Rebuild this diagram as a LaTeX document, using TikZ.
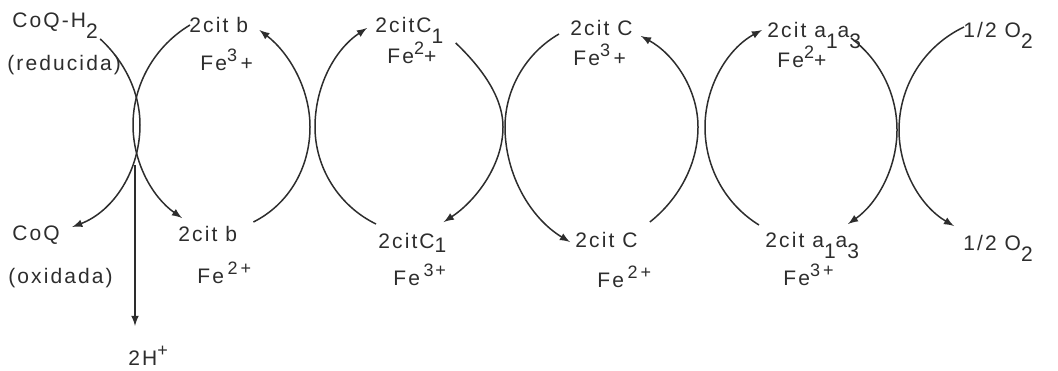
\documentclass[tikz,border=0pt]{standalone}
\usepackage{fontspec}
\setmainfont{Liberation Sans}[LetterSpace=10]
\definecolor{inkColor}{RGB}{45,45,45}
\newcommand{\subIdx}[2][1.05ex]{\raisebox{-#1}{#2}}
\newcommand{\supIdx}[1]{\raisebox{0.75ex}{\fontsize{9}{10}\selectfont #1}}

\begin{document}
\begin{tikzpicture}[x=0.5pt, y=-0.5pt,
    label/.style={inner sep=0pt, anchor=base west, text=inkColor, font=\fontsize{10.5}{12}\selectfont},
    flecha/.style={line width=0.75pt, draw=inkColor, -latex}]
  \useasboundingbox (0,0) rectangle (1058,370);

  % Coenzima Q
  \node[label] (coqH2) at (12,27) {CoQ-H\subIdx{2}};
  \node[label] (coqRed) at (7,70) {(reducida)};
  \node[label] (coq) at (12,240) {CoQ};
  \node[label] (coqOx) at (8,283) {(oxidada)};
  \node[label] (protons) at (128,365) {2H\supIdx{+}};

  % Citocromo b
  \node[label] (citbTop) at (189,32) {2cit b};
  \node[label] (feBTop) at (200,70) {Fe\supIdx{3}\,+};
  \node[label] (citbBot) at (178,241) {2cit b};
  \node[label] (feBBot) at (197,283) {Fe\,\supIdx{2\,+}};

  % Citocromo c1
  \node[label] (citcaTop) at (375,32) {2citC\subIdx{1}};
  \node[label] (feCaTop) at (387,63) {Fe\supIdx{2}+};
  \node[label] (citcaBot) at (378,248) {2citC\subIdx[0.45ex]{1}};
  \node[label] (feCaBot) at (393,285) {Fe\,\supIdx{3+}};

  % Citocromo c
  \node[label] (citcTop) at (570,35) {2cit C};
  \node[label] (feCTop) at (573,65) {Fe\supIdx{3}\,+};
  \node[label] (citcBot) at (575,247) {2cit C};
  \node[label] (feCBot) at (597,287) {Fe\,\supIdx{2\,+}};

  % Citocromo a1 a3
  \node[label] (citaTop) at (767,37) {2cit a\subIdx{1}a\subIdx{3}};
  \node[label] (feATop) at (777,67) {Fe\supIdx{2}+};
  \node[label] (citaBot) at (765,247) {2cit a\subIdx{1}a\subIdx{3}};
  \node[label] (feABot) at (783,285) {Fe\supIdx{3\,+}};

  % Oxigeno
  \node[label] (oxTop) at (963,37) {1/2 O\subIdx{2}};
  \node[label] (oxBot) at (963,250) {1/2 O\subIdx{2}};

  % CoQ-H2 -> CoQ y protones
  \draw[flecha] ([shift={(2,12)}]coqH2.base east) .. controls +(24,22) and +(0,-33) .. (140,125)
    .. controls +(0,45) and +(42,-16) .. ([shift={(12,-13)}]coq.base east);
  \coordinate (junction) at (135,165);
  \draw[flecha] (junction) -- ([yshift=10pt]junction |- protons.north);

  % ciclo b
  \draw[flecha] ([shift={(1,-7)}]citbTop.base west) .. controls +(-35,21) and +(0,-41) .. (133,125)
    .. controls +(0,37) and +(-30,-21) .. ([shift={(4,-23)}]citbBot.base west);
  \draw[flecha] ([shift={(16,-19)}]citbBot.base east) .. controls +(36,-18) and +(0,40) .. (310,127)
    .. controls +(0,-38) and +(30,23) .. ([shift={(11,-2)}]citbTop.base east);

  % ciclo c1
  \draw[flecha] ([shift={(-2,-24)}]citcaBot.base west) .. controls +(-37,-18) and +(0,41) .. (315,127)
    .. controls +(0,-40) and +(-33,22) .. ([shift={(-8,-4)}]citcaTop.base west);
  \draw[flecha] ([shift={(12,11)}]citcaTop.base east) .. controls +(23,22) and +(0,-32) .. (503,127)
    .. controls +(0,38) and +(32,-21) .. ([shift={(-3,-26)}]citcaBot.base east);

  % ciclo c
  \draw[flecha] ([shift={(-11,-1)}]citcTop.base west) .. controls +(-33,19) and +(0,-38) .. (505,127)
    .. controls +(0,47) and +(-40,-24) .. ([shift={(-5,-5)}]citcBot.base west);
  \draw[flecha] ([shift={(12,-25)}]citcBot.base east) .. controls +(29,-23) and +(0,37) .. (698,127)
    .. controls +(0,-38) and +(33,18) .. ([shift={(8,1)}]citcTop.base east);

  % ciclo a1 a3
  \draw[flecha] ([shift={(-6,-22)}]citaBot.base west) .. controls +(-34,-21) and +(0,40) .. (705,127)
    .. controls +(0,-40) and +(-35,19) .. ([shift={(-5,-7)}]citaTop.base west);
  \draw[flecha] ([shift={(84,1)}]citaTop.base west) .. controls +(29,22) and +(0,-36) .. (897,130)
    .. controls +(0,37) and +(30,-21) .. ([shift={(83,-23)}]citaBot.base west);

  % O2
  \draw[flecha] ([shift={(1,-10)}]oxTop.base west) .. controls +(-40,19) and +(0,-44) .. (899,130)
    .. controls +(0,39) and +(-34,-20) .. ([shift={(-9,-24)}]oxBot.base west);
\end{tikzpicture}
\end{document}
